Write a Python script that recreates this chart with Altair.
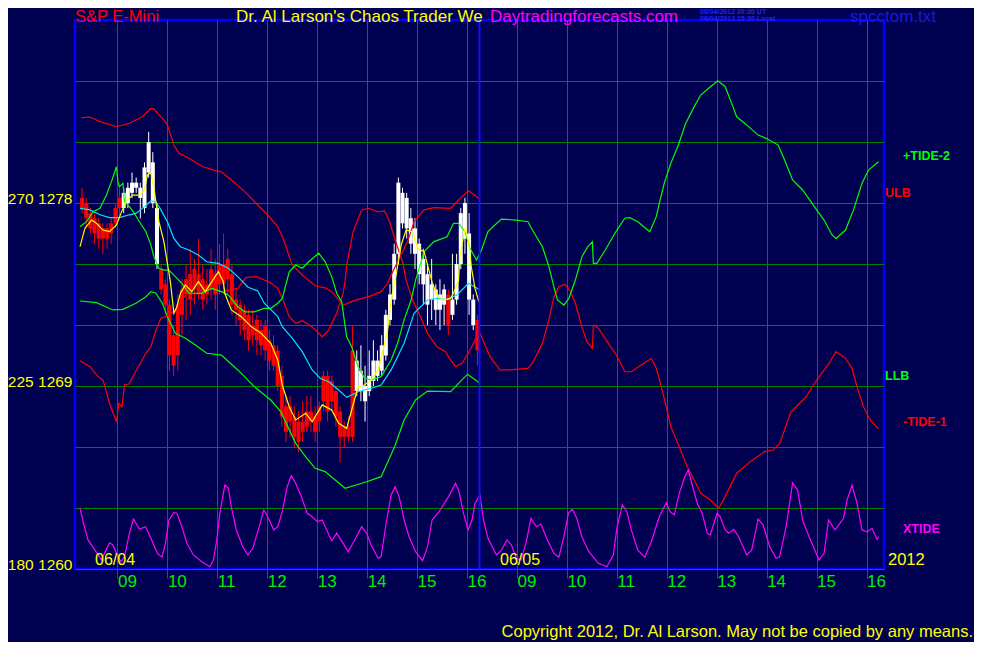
import altair as alt
import pandas as pd

# ---------------- data ----------------
# 5-minute bars of day 1 (06/04), starting 08:15
OPEN = [1278.25,1278.0,1277.5,1277.25,1277.0,1276.75,1276.75,1277.0,1277.75,
        1278.25,1277.75,1278.0, 1278.5,1278.75,1278.25,
        1277.75,1279.5,1278.0,1275.0,
        1274.75,1274.0,1273.0,1271.5,1273.0,1273.75,
        1274.25,1274.5,1274.75,1274.5,1274.25,1274.0,1274.75,1274.5,1275.0,
        1275.0,1275.25,1274.5,1273.25,
        1273.0,1272.75,1272.5,1272.0,1272.25,1271.75,1272.0,1271.25,
        1271.0,1270.75,1269.5,1268.0,
        1268.0,1267.5,1267.25,1267.25,1267.75,
        1267.75,1267.5,1268.0,1269.5,
        1269.5,1269.25,1268.75,
        1267.75,1267.0,1267.0,1270.75,
        1268.75,1268.75,1268.25,1268.75,1269.25,1269.5,1269.75,
        1270.5,1272.25,1273.25,1275.5,1277.0,1276.75,1276.0,
        1275.5,1274.5,1274.0,1273.0,1273.25,1272.75,1272.75,1273.0,1273.5,1272.5,
        1273.25,1275.0,1276.25,1273.25,1272.0,1272.25]
CLOSE = [1277.75,1277.25,1276.75,1276.5,1276.25,1276.25,1276.25,1276.5,1277.0,
         1277.75,1278.5,1278.75, 1279.0,1279.0,1278.75,
         1279.75,1281.0,1280.0,1277.75,
         1273.75,1273.0,1270.5,1270.0,1270.5,1272.5,
         1273.5,1273.25,1273.75,1273.5,1273.25,1273.5,1273.75,1273.5,1274.0,
         1274.0,1274.25,1273.0,1272.75,
         1272.25,1271.75,1271.25,1271.5,1271.25,1271.0,1270.75,1270.25,
         1270.0,1269.0,1267.5,1266.75,
         1267.25,1266.5,1266.25,1266.75,1267.0,
         1267.25,1266.75,1267.25,1268.25,
         1267.75,1268.25,1267.5,
         1266.5,1266.5,1266.5,1266.5,
         1270.25,1269.75,1269.0,1269.5,1270.25,1270.25,1271.0,
         1272.5,1273.5,1275.5,1279.0,1278.5,1278.25,1277.25,
         1276.75,1276.0,1275.25,1274.5,1274.0,1273.75,1273.5,1273.75,1272.0,1273.25,
         1275.0,1277.5,1278.0,1276.5,1273.25,1270.75]
HIGH = [1278.75,1278.25,1277.75,1277.5,1277.25,1277.0,1277.0,1277.25,1278.0,
        1278.75,1278.75,1279.0, 1279.5,1279.25,1279.0,
        1280.0,1281.5,1280.5,1278.0,
        1275.0,1274.25,1273.25,1272.0,1273.5,1274.25,
        1275.0,1275.75,1275.25,1276.25,1275.0,1274.75,1275.75,1275.25,1276.0,
        1276.5,1275.75,1275.0,1273.75,
        1273.25,1273.0,1272.75,1272.75,1272.5,1272.25,1272.25,1271.75,
        1271.5,1271.0,1270.0,1268.5,
        1268.5,1268.0,1267.75,1268.25,1268.5,
        1268.5,1268.0,1268.25,1269.75,
        1269.75,1269.5,1269.0,
        1268.0,1267.25,1267.5,1272.0,
        1270.75,1271.0,1270.0,1270.75,1271.25,1270.75,1271.5,
        1272.75,1274.0,1276.0,1279.25,1278.75,1278.5,1277.75,
        1277.25,1276.25,1275.75,1275.0,1275.25,1274.0,1274.25,1274.0,1273.75,1275.5,
        1275.5,1277.75,1278.25,1277.5,1273.5,1272.5]
LOW = [1277.5,1276.75,1276.5,1276.0,1275.75,1275.5,1275.75,1276.0,1276.75,
       1277.25,1277.5,1277.75, 1278.25,1278.5,1277.25,
       1277.5,1279.25,1277.75,1274.75,
       1273.5,1272.5,1269.75,1269.5,1269.75,1271.5,
       1272.25,1272.5,1273.0,1273.25,1272.75,1273.0,1273.25,1272.75,1273.5,
       1273.75,1273.5,1272.5,1272.0,
       1271.5,1271.25,1270.75,1271.0,1270.5,1270.5,1270.25,1269.75,
       1269.75,1268.75,1267.0,1266.25,
       1266.5,1266.0,1265.75,1266.25,1266.75,
       1266.75,1266.25,1266.75,1267.75,
       1267.25,1267.75,1267.0,
       1265.25,1266.0,1266.25,1266.25,
       1268.5,1268.25,1267.25,1268.5,1269.0,1269.25,1269.5,
       1270.25,1272.0,1273.0,1275.0,1276.75,1276.25,1275.5,
       1274.75,1274.0,1273.0,1272.0,1272.25,1272.0,1271.75,1272.0,1271.5,1272.25,
       1273.0,1274.75,1275.5,1272.5,1271.75,1270.0]

# (session hour, price) pairs; day 2 hours are shifted by +8
ULB = [(8.28,1282.20),(8.45,1282.23),(8.65,1282.00),(8.98,1281.75),(9.24,1281.92),
       (9.50,1282.24),(9.67,1282.65),(9.73,1282.62),(9.93,1282.08),(10.00,1281.84),
       (10.13,1280.85),(10.23,1280.44),(10.43,1280.20),(10.59,1279.95),(10.72,1279.78),
       (10.92,1279.62),(11.08,1279.54),(11.28,1279.13),(11.55,1278.56),(11.81,1277.90),
       (12.01,1277.41),(12.21,1276.83),(12.30,1276.38),(12.50,1274.95),(12.70,1274.46),
       (12.96,1273.93),(13.16,1273.83),(13.29,1273.64),(13.52,1272.98),(13.69,1273.15),
       (13.89,1273.31),(14.08,1273.43),(14.28,1273.64),(14.41,1274.05),(14.48,1274.46),
       (14.81,1276.10),(14.94,1277.08),(15.14,1277.66),(15.34,1277.77),(15.67,1277.74),
       (15.86,1278.23),(16.03,1278.60),(16.26,1278.18)]
LLB = [(8.25,1273.18),(8.58,1273.10),(8.91,1272.74),(9.11,1272.77),(9.37,1273.07),
       (9.57,1273.39),(9.67,1273.64),(9.77,1273.56),(9.90,1273.07),(10.00,1272.41),
       (10.16,1271.59),(10.36,1271.35),(10.56,1271.02),(10.79,1270.61),(11.08,1270.52),
       (11.41,1269.79),(11.74,1268.97),(12.07,1268.31),(12.27,1267.74),(12.57,1266.18),
       (12.77,1265.52),(12.96,1264.95),(13.16,1264.79),(13.36,1264.38),(13.56,1263.97),
       (13.99,1264.29),(14.28,1264.54),(14.55,1266.01),(14.74,1267.33),(14.97,1268.31),
       (15.21,1268.75),(15.67,1268.72),(16.01,1269.58),(16.26,1269.13)]
SLOW_MA = [(8.25,1277.74),(8.45,1277.66),(8.65,1277.42),(8.84,1277.28),(9.04,1277.28),
           (9.24,1277.42),(9.37,1277.49),(9.54,1277.82),(9.67,1278.10),(9.77,1278.06),
           (9.87,1277.66),(10.00,1277.08),(10.13,1276.26),(10.26,1275.85),(10.43,1275.69),
           (10.62,1275.44),(10.79,1275.11),(11.02,1275.03),(11.22,1274.79),(11.41,1274.38),
           (11.61,1273.87),(11.81,1273.67),(11.94,1273.07),(12.21,1272.41),(12.30,1271.92),
           (12.50,1271.35),(12.70,1270.69),(12.90,1269.79),(13.06,1269.38),(13.23,1269.21),
           (13.43,1268.80),(13.59,1268.44),(13.82,1268.72),(14.08,1268.89),(14.28,1269.05),
           (14.48,1269.79),(14.74,1271.10),(14.94,1272.58),(15.21,1273.23),(15.40,1273.31),
           (15.60,1273.26),(15.80,1273.48),(16.03,1274.05),(16.26,1273.72)]
FAST_MA = [(8.25,1275.85),(8.35,1276.76),(8.48,1277.16),(8.58,1277.00),(8.71,1276.67),
           (8.84,1276.59),(8.98,1276.92),(9.07,1277.49),(9.17,1278.06),(9.30,1278.39),
           (9.44,1278.39),(9.54,1278.64),(9.60,1279.38),(9.67,1279.51),(9.73,1278.72),
           (9.83,1277.08),(9.93,1276.10),(10.00,1275.03),(10.06,1274.13),(10.13,1272.58),
           (10.19,1272.90),(10.26,1273.56),(10.36,1273.97),(10.49,1273.64),(10.62,1274.13),
           (10.76,1273.64),(10.89,1274.13),(11.02,1274.62),(11.12,1274.13),(11.15,1273.56),
           (11.28,1272.74),(11.48,1272.41),(11.68,1271.92),(11.88,1271.59),(12.07,1271.10),
           (12.21,1270.28),(12.30,1269.05),(12.44,1267.98),(12.57,1267.33),(12.77,1267.66),
           (12.90,1267.24),(13.10,1268.07),(13.29,1267.82),(13.43,1267.17),(13.59,1266.92),
           (13.69,1267.82),(13.82,1268.97),(13.95,1269.05),(14.08,1269.30),(14.22,1269.79),
           (14.32,1270.77),(14.41,1271.75),(14.48,1273.23),(14.58,1274.46),(14.68,1275.93),
           (14.78,1276.67),(14.91,1276.59),(15.01,1275.77),(15.14,1275.61),(15.21,1274.95),
           (15.30,1274.11),(15.40,1273.48),(15.53,1273.23),(15.67,1273.31),(15.73,1273.56),
           (15.83,1274.21),(15.86,1275.44),(15.96,1276.76),(16.03,1276.10),(16.09,1274.79),
           (16.16,1273.80),(16.24,1273.13)]
TIDE2 = [(8.25,1276.83),(8.38,1277.08),(8.51,1277.57),(8.65,1277.74),(8.78,1278.39),
         (8.88,1279.05),(8.98,1279.78),(9.01,1279.05),(9.04,1278.80),(9.11,1278.97),
         (9.14,1278.06),(9.24,1277.82),(9.34,1277.49),(9.44,1277.08),(9.57,1276.59),
         (9.67,1275.93),(9.73,1275.36),(9.83,1274.79),(9.93,1274.70),(10.03,1274.70),
         (10.16,1274.38),(10.29,1274.05),(10.43,1273.57),(10.69,1273.56),(10.89,1273.80),
         (11.08,1273.64),(11.22,1273.48),(11.41,1272.90),(11.55,1272.65),(11.74,1272.65),
         (11.94,1272.82),(12.07,1272.82),(12.21,1273.07),(12.30,1273.31),(12.44,1274.62),
         (12.57,1274.95),(12.70,1274.79),(12.83,1275.11),(13.03,1275.53),(13.16,1275.11),
         (13.29,1274.38),(13.39,1273.56),(13.49,1273.15),(13.56,1271.92),(13.59,1271.42),
         (13.69,1270.93),(13.82,1269.95),(13.95,1269.38),(14.08,1269.30),(14.28,1269.46),
         (14.48,1270.28),(14.61,1271.10),(14.74,1272.25),(14.88,1273.23),(14.97,1274.21),
         (15.14,1275.61),(15.34,1276.10),(15.60,1276.34),(15.73,1277.00),(15.83,1277.00),
         (15.96,1276.59),(16.06,1275.77),(16.19,1275.20),(16.29,1275.69),(16.42,1276.59),
         (16.52,1276.83),(16.69,1277.21),(16.98,1277.16),(17.22,1277.08),(17.31,1276.67),
         (17.51,1275.85),(17.64,1274.87),(17.74,1273.88),(17.81,1273.23),(17.94,1272.98),
         (18.04,1273.31),(18.17,1274.21),(18.30,1275.36),(18.42,1275.85),(18.51,1276.10),
         (18.53,1275.03),(18.60,1275.03),(18.77,1275.69),(18.96,1276.51),(19.16,1277.25),
         (19.26,1277.28),(19.42,1277.08),(19.66,1276.59),(19.79,1277.33),(19.85,1277.98),
         (19.95,1278.97),(20.08,1279.95),(20.22,1280.77),(20.38,1281.92),(20.55,1282.74),
         (20.68,1283.31),(20.84,1283.64),(21.02,1284.01),(21.17,1283.72),(21.30,1282.90),
         (21.40,1282.24),(21.60,1281.84),(21.83,1281.34),(21.99,1281.18),(22.23,1280.85),
         (22.36,1280.11),(22.52,1279.13),(22.72,1278.64),(22.98,1277.74),(23.15,1277.16),
         (23.31,1276.43),(23.39,1276.26),(23.58,1276.67),(23.74,1277.66),(23.91,1278.97),
         (24.04,1279.62),(24.24,1280.03)]
TIDE1 = [(8.25,1270.24),(8.45,1269.95),(8.61,1269.46),(8.71,1269.30),(8.84,1268.15),
         (8.98,1267.24),(9.03,1268.15),(9.09,1267.98),(9.14,1269.05),(9.23,1269.10),
         (9.40,1269.87),(9.57,1270.61),(9.67,1270.93),(9.77,1271.75),(9.87,1272.33),
         (9.96,1272.41),(10.16,1272.74),(10.36,1273.48),(10.56,1274.02),(10.82,1273.82),
         (11.08,1273.64),(11.41,1273.80),(11.57,1274.33),(11.78,1274.38),(11.94,1274.21),
         (12.07,1274.07),(12.21,1273.80),(12.30,1273.33),(12.44,1272.41),(12.57,1272.08),
         (12.70,1272.21),(12.90,1271.92),(13.10,1271.42),(13.23,1271.75),(13.39,1272.58),
         (13.52,1273.56),(13.56,1274.21),(13.59,1274.95),(13.72,1276.59),(13.89,1277.66),
         (14.02,1277.74),(14.22,1277.57),(14.35,1277.61),(14.45,1277.08),(14.55,1276.26),
         (14.64,1275.60),(14.71,1275.11),(14.78,1274.21),(14.91,1273.23),(15.07,1272.41),
         (15.21,1271.59),(15.40,1270.93),(15.57,1270.69),(15.67,1270.28),(15.77,1269.95),
         (15.90,1270.12),(16.06,1270.77),(16.19,1271.42),(16.26,1271.59),(16.46,1270.44),
         (16.66,1269.79),(16.85,1269.79),(17.22,1269.87),(17.31,1270.12),(17.51,1271.10),
         (17.64,1272.25),(17.74,1273.39),(17.84,1273.88),(17.96,1274.00),(18.07,1273.64),
         (18.17,1273.07),(18.30,1271.92),(18.40,1271.18),(18.51,1270.85),(18.53,1272.00),
         (18.63,1271.84),(18.83,1271.10),(18.99,1270.52),(19.16,1269.70),(19.29,1269.70),
         (19.49,1270.03),(19.69,1270.36),(19.79,1269.87),(19.89,1268.97),(19.99,1267.98),
         (20.08,1267.00),(20.25,1266.01),(20.41,1265.03),(20.55,1264.38),(20.68,1263.72),
         (20.87,1263.39),(21.04,1262.99),(21.17,1263.56),(21.40,1264.71),(21.67,1265.28),
         (21.96,1265.77),(22.13,1265.85),(22.26,1266.18),(22.49,1267.74),(22.59,1267.98),
         (22.79,1268.47),(22.98,1269.21),(23.25,1270.12),(23.39,1270.69),(23.58,1270.36),
         (23.71,1269.87),(23.81,1268.97),(23.94,1267.98),(24.07,1267.33),(24.24,1266.89)]
XTIDE = [(8.25,1262.99),(8.32,1262.25),(8.41,1261.43),(8.55,1260.93),(8.68,1260.44),
         (8.74,1260.77),(8.84,1261.29),(8.91,1261.18),(8.98,1260.77),(9.07,1260.36),
         (9.14,1260.60),(9.24,1261.76),(9.32,1262.46),(9.44,1261.95),(9.56,1262.08),
         (9.67,1261.51),(9.80,1260.77),(9.89,1260.58),(9.96,1261.26),(10.03,1262.41),
         (10.13,1262.77),(10.19,1262.74),(10.29,1262.08),(10.39,1261.26),(10.52,1260.69),
         (10.69,1260.36),(10.85,1260.11),(10.92,1260.44),(10.99,1261.43),(11.05,1262.74),
         (11.15,1264.13),(11.22,1263.97),(11.28,1263.06),(11.38,1261.92),(11.51,1261.10),
         (11.61,1260.69),(11.71,1261.02),(11.84,1262.08),(11.93,1262.90),(12.01,1262.57),
         (12.13,1261.92),(12.21,1262.08),(12.30,1262.82),(12.40,1264.05),(12.48,1264.59),
         (12.57,1264.21),(12.67,1263.64),(12.80,1262.74),(12.90,1262.57),(13.00,1262.33),
         (13.10,1262.41),(13.19,1261.92),(13.29,1261.39),(13.39,1261.76),(13.52,1261.26),
         (13.62,1260.85),(13.75,1261.43),(13.89,1262.08),(13.99,1261.76),(14.08,1261.18),
         (14.22,1260.53),(14.28,1260.60),(14.38,1262.25),(14.48,1263.64),(14.56,1264.05),
         (14.64,1263.56),(14.74,1262.41),(14.84,1261.59),(14.97,1260.85),(15.11,1260.41),
         (15.21,1261.10),(15.30,1262.41),(15.44,1262.82),(15.63,1263.56),(15.77,1264.21),
         (15.83,1263.89),(15.93,1262.74),(16.02,1261.92),(16.10,1262.41),(16.16,1263.23),
         (16.26,1263.64),(16.33,1262.41),(16.42,1261.51),(16.59,1260.69),(16.69,1260.93),
         (16.80,1261.43),(16.89,1261.18),(16.99,1260.53),(17.08,1260.44),(17.18,1261.26),
         (17.28,1262.49),(17.39,1262.08),(17.48,1262.21),(17.61,1261.43),(17.74,1260.77),
         (17.84,1260.58),(17.94,1261.59),(18.03,1262.74),(18.11,1262.94),(18.20,1262.49),
         (18.30,1261.59),(18.44,1260.85),(18.63,1260.28),(18.80,1260.11),(18.93,1260.69),
         (19.00,1262.00),(19.11,1263.15),(19.20,1262.82),(19.29,1261.92),(19.42,1260.93),
         (19.56,1260.58),(19.69,1261.34),(19.85,1262.57),(19.99,1263.26),(20.07,1262.82),
         (20.15,1262.66),(20.25,1263.72),(20.35,1264.46),(20.43,1264.87),(20.51,1264.13),
         (20.61,1263.23),(20.71,1262.74),(20.81,1261.76),(20.87,1261.67),(21.01,1262.74),
         (21.07,1262.57),(21.17,1261.92),(21.24,1261.76),(21.34,1261.95),(21.44,1261.59),
         (21.60,1260.69),(21.70,1260.93),(21.83,1262.46),(21.93,1262.16),(22.06,1261.10),
         (22.19,1260.53),(22.26,1260.60),(22.39,1262.08),(22.52,1264.24),(22.62,1263.89),
         (22.72,1262.41),(22.85,1261.59),(23.05,1260.44),(23.15,1260.77),(23.24,1262.41),
         (23.37,1261.92),(23.54,1262.49),(23.61,1263.39),(23.71,1264.13),(23.81,1263.23),
         (23.91,1261.92),(24.01,1261.83),(24.11,1262.00),(24.21,1261.46),(24.25,1261.59)]

SESSION_BREAK = [16.25]
HOUR_TICKS = [9, 10, 11, 12, 13, 14, 15, 16, 17, 18, 19, 20, 21, 22, 23, 24]
PRICE_GRID = [1260, 1263, 1266, 1269, 1272, 1275, 1278, 1281, 1284]

# ---------------- styling ----------------
BG = "#000050"
GRID = "#008000"
FONT = "Liberation Sans, Arial, sans-serif"

xs = alt.Scale(domain=[8.25, 24.25], nice=False, zero=False)
ys = alt.Scale(domain=[1260, 1287], nice=False, zero=False)

HOUR_EXPR = "(datum.value > 16.5 ? datum.value - 8 : datum.value)"
x_axis = alt.Axis(
    values=HOUR_TICKS, title=None, grid=True, gridColor=GRID, domain=False,
    ticks=True, tickColor=GRID, tickSize=9, labelColor="#00EE00",
    labelFont=FONT, labelFontSize=17, labelAlign="left",
    labelBaseline="top", labelPadding=-5, labelFlush=False, labelOverlap=False,
    labelExpr=f"{HOUR_EXPR} < 10 ? '0' + {HOUR_EXPR} : '' + {HOUR_EXPR}",
)
y_axis = alt.Axis(
    values=PRICE_GRID, title=None, grid=True, gridColor=GRID, domain=False,
    ticks=False, labelColor="#FFFF00", labelFont=FONT, labelFontSize=15.5,
    labelAlign="right", labelBaseline="alphabetic", labelPadding=3,
    labelOverlap=False, labelFlush=False,
    labelExpr="(datum.value - 1260) % 9 == 0 ? format(180 + (datum.value - 1260) * 5, 'd') + ' ' + format(datum.value, 'd') : ''",
)


def X(field):
    return alt.X(field, type="quantitative", scale=xs, axis=x_axis)


def Y(field):
    return alt.Y(field, type="quantitative", scale=ys, axis=y_axis)


bars = pd.DataFrame({
    "t": [8.25 + (i + 0.5) / 12 for i in range(len(OPEN))],
    "o": OPEN, "c": CLOSE, "hi": HIGH, "lo": LOW,
})
candle_color = alt.condition("datum.c >= datum.o", alt.value("#FFFFFF"), alt.value("#FF0000"))

wicks = alt.Chart(bars).mark_rule(strokeWidth=1).encode(
    x=X("t"), y=Y("lo"), y2="hi", color=candle_color)
bodies = alt.Chart(bars).mark_bar(size=4).encode(
    x=X("t"), y=Y("o"), y2="c", color=candle_color)


def line(pairs, color, width=1.2):
    df = pd.DataFrame(pairs, columns=["t", "p"])
    return alt.Chart(df).mark_line(color=color, strokeWidth=width, interpolate="linear").encode(
        x=X("t"), y=Y("p"), order="t:Q")


sep = alt.Chart(pd.DataFrame({"t": SESSION_BREAK})).mark_rule(
    color="#1010FF", strokeWidth=2).encode(x=X("t"))


def label(txt, px, py, color, size, align="left", weight="normal"):
    return alt.Chart(alt.Data(values=[{"k": 1}])).mark_text(
        text=txt, x=px, y=py, color=color, fontSize=size, font=FONT,
        align=align, baseline="middle", fontWeight=weight)


texts = [
    label("S&P E-Mini", 0, -3.5, "#FF0000", 16.5),
    label("Dr. Al Larson's Chaos Trader We", 161, -3.5, "#FFFF00", 17),
    label("Daytradingforecasts.com", 415, -3.5, "#FF00FF", 17),
    label("06/04/2012 20:30 UT", 625, -8.2, "#2222FF", 7, weight="bold"),
    label("06/04/2012 15:30 Local", 625, -1.5, "#2222FF", 7, weight="bold"),
    label("spcctom.txt", 775, -3.5, "#1818E0", 17),
    label("06/04", 20, 540, "#FFFF00", 16),
    label("06/05", 425, 540, "#FFFF00", 16),
    label("2012", 813, 540, "#FFFF00", 16.5),
    label("+TIDE-2", 828, 136, "#00FF00", 12.5, weight="bold"),
    label("ULB", 810, 173, "#FF0000", 12.5, weight="bold"),
    label("LLB", 810, 356, "#00FF00", 12.5, weight="bold"),
    label("-TIDE-1", 828, 402, "#FF0000", 12.5, weight="bold"),
    label("XTIDE", 828, 509, "#FF00FF", 12.5, weight="bold"),
    label("Copyright 2012, Dr. Al Larson. May not be copied by any means.",
          898, 612, "#FFFF00", 16.5, align="right"),
]

chart = alt.layer(
    wicks, bodies,
    line(ULB, "#FF0000"),
    line(LLB, "#00FF00"),
    line(TIDE1, "#FF0000"),
    line(TIDE2, "#00FF00"),
    line(XTIDE, "#FF00FF"),
    line(SLOW_MA, "#00E5FF"),
    line(FAST_MA, "#FFFF00"),
    sep,
    *texts,
).properties(
    width=809, height=549,
    padding={"left": 67, "top": 12, "right": 90, "bottom": 73},
    autosize=alt.AutoSizeParams(type="none"),
    background=BG,
).configure_view(
    stroke="#0000FF", strokeWidth=2.5,
)

chart.save("out.html", embed_options={"renderer": "svg", "actions": False})
